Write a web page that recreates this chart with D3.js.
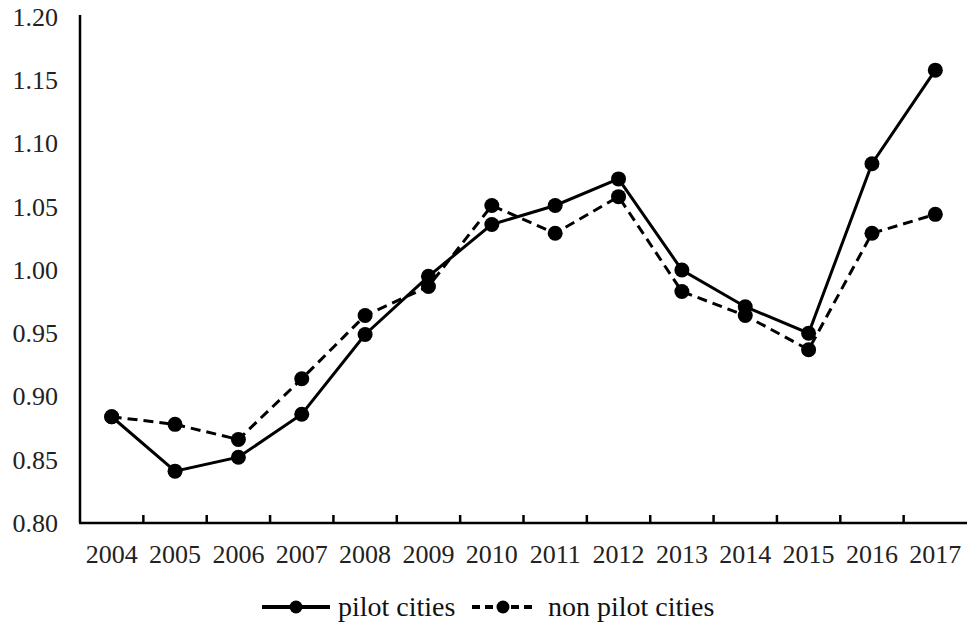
<!DOCTYPE html>
<html><head><meta charset="utf-8">
<script src="https://cdn.jsdelivr.net/npm/d3@7"></script>
<style>body{margin:0;background:#fff}svg{display:block}</style>
</head><body><svg id="c" width="975" height="630"></svg>
<script>
const years = ["2004","2005","2006","2007","2008","2009","2010","2011","2012","2013","2014","2015","2016","2017"];
const pilot = [0.884,0.841,0.852,0.886,0.949,0.995,1.036,1.051,1.072,1.000,0.971,0.950,1.084,1.158];
const nonPilot = [0.884,0.878,0.866,0.914,0.964,0.987,1.051,1.029,1.058,0.983,0.964,0.937,1.029,1.044];
const yTicks = [0.80,0.85,0.90,0.95,1.00,1.05,1.10,1.15,1.20];
const seriesNames = ["pilot cities","non pilot cities"];

(function () {
const svg = d3.select("#c");
const FONT = '"Liberation Serif"';
const mLeft = 80, mRight = 967, mTop = 17, mBottom = 523;
const x = d3.scaleBand().domain(years).range([mLeft, mRight]).padding(0);
const y = d3.scaleLinear().domain([0.80, 1.20]).range([mBottom, mTop]);

function styleText(sel, size) {
  sel.attr("font-family", FONT).attr("font-size", size).attr("fill", "#222");
}

// y axis
const ya = svg.append("g").attr("transform", `translate(${mLeft},0)`)
  .call(d3.axisLeft(y).tickValues(yTicks).tickFormat(d3.format(".2f")).tickSize(0).tickPadding(22));
ya.attr("font-family", null).attr("font-size", null);
ya.select(".domain").attr("stroke", "#000").attr("stroke-width", 2.5).attr("d", `M0,${mBottom}V${mTop - 2}`);
styleText(ya.selectAll("text"), 26);

// x axis
const xa = svg.append("g").attr("transform", `translate(0,${mBottom})`)
  .call(d3.axisBottom(x).tickSize(0).tickPadding(22));
xa.attr("font-family", null).attr("font-size", null);
xa.select(".domain").attr("stroke", "#000").attr("stroke-width", 2.5).attr("d", `M${mLeft - 1},0H${mRight}`);
styleText(xa.selectAll("text"), 26);
// tick marks between categories
svg.append("g").selectAll("line").data(years.slice(1)).join("line")
  .attr("x1", d => x(d)).attr("x2", d => x(d))
  .attr("y1", mBottom).attr("y2", mBottom - 8)
  .attr("stroke", "#000").attr("stroke-width", 2.5);

const line = d3.line().x((d, i) => x(years[i]) + x.bandwidth() / 2).y(d => y(d));

function drawSeries(data, dash) {
  svg.append("path").datum(data).attr("d", line).attr("fill", "none")
    .attr("stroke", "#000").attr("stroke-width", 3).attr("stroke-dasharray", dash);
  svg.append("g").selectAll("circle").data(data).join("circle")
    .attr("cx", (d, i) => x(years[i]) + x.bandwidth() / 2).attr("cy", d => y(d))
    .attr("r", 7.5).attr("fill", "#000");
}
drawSeries(nonPilot, "10,6");
drawSeries(pilot, null);

// legend
const lg = svg.append("g");
const items = [
  {name: seriesNames[0], x0: 262, x1: 330, dash: null, tx: 338},
  {name: seriesNames[1], x0: 472, x1: 534, dash: "8,5", tx: 548}
];
const ly = 607;
items.forEach(it => {
  lg.append("line").attr("x1", it.x0).attr("x2", it.x1).attr("y1", ly).attr("y2", ly)
    .attr("stroke", "#000").attr("stroke-width", 4).attr("stroke-dasharray", it.dash);
  lg.append("circle").attr("cx", (it.x0 + it.x1) / 2).attr("cy", ly).attr("r", 6.5).attr("fill", "#000");
  const t = lg.append("text").attr("x", it.tx).attr("y", ly).attr("dy", "0.32em").text(it.name);
  styleText(t, 28);
  t.attr("fill", "#111");
});
})();
</script></body></html>
